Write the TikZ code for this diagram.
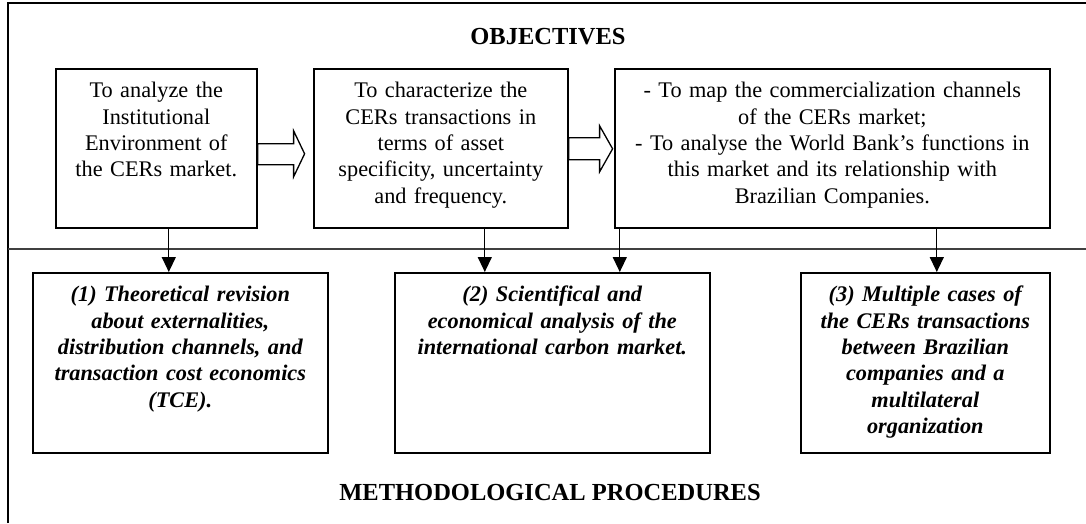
\documentclass[tikz,border=0pt]{standalone}
\usepackage{fontspec}
\setmainfont{Liberation Serif}
\usetikzlibrary{arrows.meta,calc}

\tikzset{
  objbox/.style={draw, line width=1.6pt, align=center, anchor=north west,
    inner xsep=4pt, inner ysep=13pt, text height=16pt,
    font=\fontsize{22.3}{26.3}\selectfont},
  metbox/.style={objbox, font=\fontsize{22.3}{26.3}\selectfont\bfseries\itshape},
  heading/.style={anchor=base, inner sep=0pt,
    font=\fontsize{24.5}{28}\selectfont\bfseries},
  flow/.style={line width=1.3pt, -{Triangle[length=15pt,width=14pt]}},
  blockarrow/.style={line width=1.3pt, fill=white},
}

\begin{document}
\begin{tikzpicture}[x=1pt, y=-1pt]
  \useasboundingbox (0,0) rectangle (1086,523);
  % frame and divider
  \draw[line width=1.6pt] (8,523) -- (8,3) -- (1086,3);
  \draw[line width=1.3pt, black!75] (8,249) -- (1086,249);

  \node[heading] (objtitle) at (548,44) {OBJECTIVES};
  \node[heading] (mettitle) at (550,500) {METHODOLOGICAL PROCEDURES};

  % objectives
  \node[objbox, text width=193pt, text depth=117pt] (objA) at (55,68)
    {To analyze the\\ Institutional\\ Environment of\\ the CERs market.};
  \node[objbox, text width=246pt, text depth=117pt] (objB) at (313,68)
    {To characterize the\\ CERs transactions in\\ terms of asset\\ specificity, uncertainty\\ and frequency.};
  \node[objbox, text width=427pt, text depth=117pt] (objC) at (614,68)
    {- To map the commercialization channels\\ of the CERs market;\\ - To analyse the World Bank’s functions in\\ this market and its relationship with\\ Brazilian Companies.};

  % methodological procedures
  \node[metbox, text width=287pt, text depth=138pt] (met1) at (32,272)
    {(1) Theoretical revision\\ about externalities,\\ distribution channels, and\\ transaction cost economics\\ (TCE).};
  \node[metbox, text width=307pt, text depth=138pt] (met2) at (394,272)
    {(2) Scientifical and\\ economical analysis of the\\ international carbon market.};
  \node[metbox, text width=241pt, text depth=138pt] (met3) at (800,272)
    {(3) Multiple cases of\\ the CERs transactions\\ between Brazilian\\ companies and a\\ multilateral\\ organization};

  % block arrows between objectives
  \draw[blockarrow] ($(objA.east)+(0,-4.5)$) -- ++(36,0) -- ++(0,-13) -- ++(11,23)
    -- ++(-11,23) -- ++(0,-12) -- ++(-36,0) -- cycle;
  \draw[blockarrow] ($(objB.east)+(0,-10.5)$) -- ++(31,0) -- ++(0,-12) -- ++(13,23)
    -- ++(-13,23) -- ++(0,-12) -- ++(-31,0) -- cycle;

  % objectives to procedures
  \draw[flow] ([xshift=12.5pt]objA.south) coordinate (a1) -- (a1 |- met1.north);
  \draw[flow] ([xshift=44pt]objB.south) coordinate (b1) -- (b1 |- met2.north);
  \draw[flow] ([xshift=-212.5pt]objC.south) coordinate (c1) -- (c1 |- met2.north);
  \draw[flow] ([xshift=104.5pt]objC.south) coordinate (c2) -- (c2 |- met3.north);
\end{tikzpicture}
\end{document}
